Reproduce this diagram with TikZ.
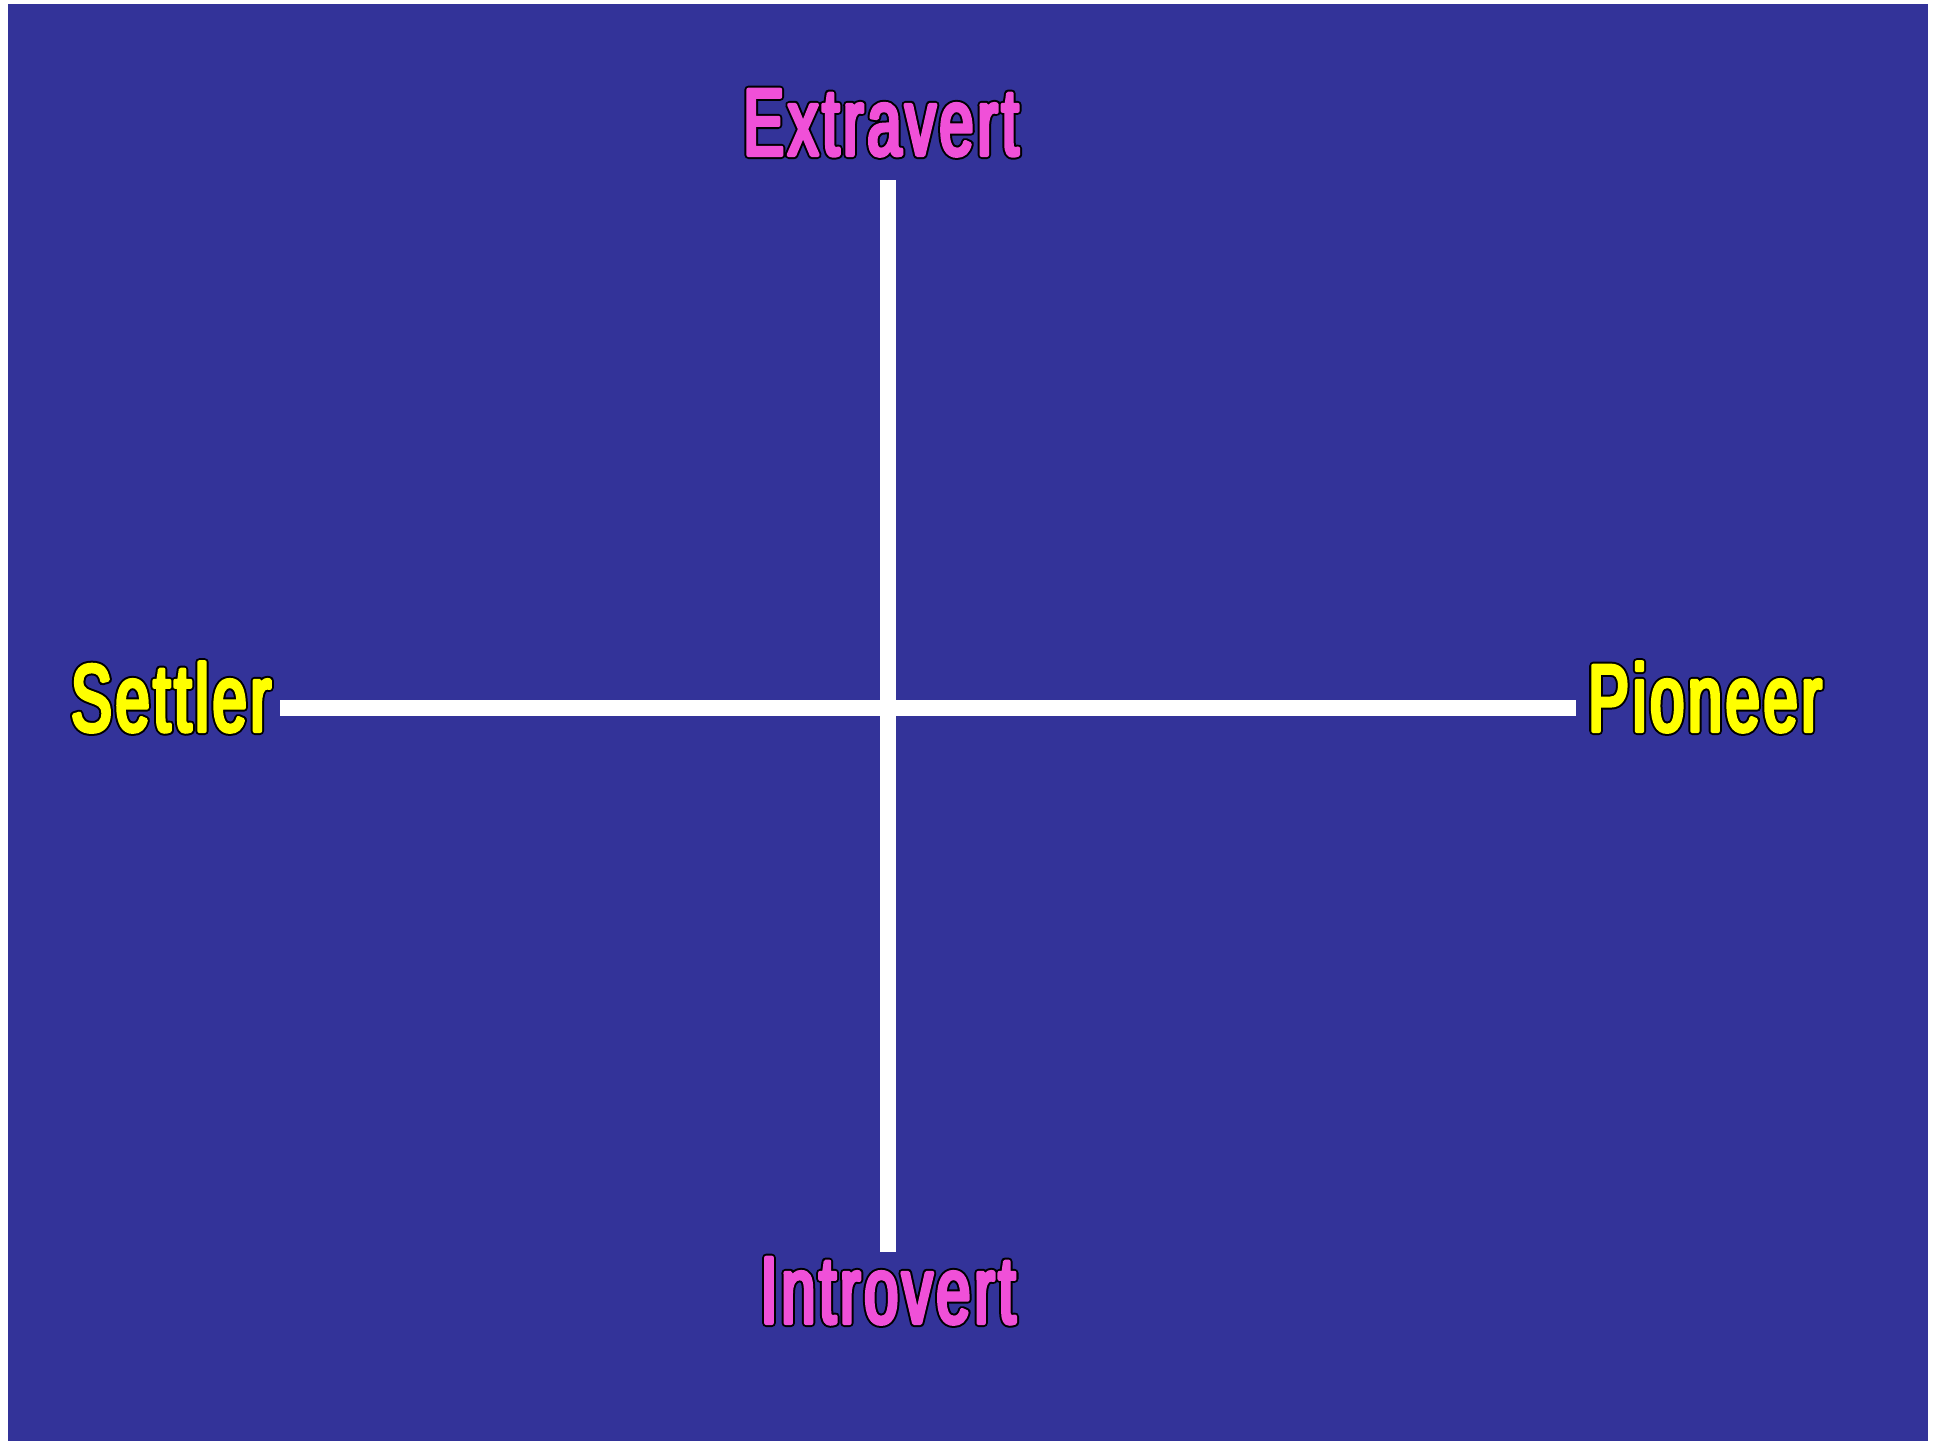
\documentclass[tikz,border=0pt]{standalone}
\usepackage{fontspec}
\newfontfamily\polefont{Liberation Sans}[FakeStretch=0.64,LetterSpace=4.2]
\definecolor{bgblue}{RGB}{51,51,153}
\definecolor{polepink}{RGB}{240,80,216}
\definecolor{poleyellow}{RGB}{255,255,0}
% black thick stroke underneath, coloured stroke on top: heavy letters with a black outline
\newcommand{\outlinedtext}[1]{\rlap{{\color{black}\special{pdf:literal direct 1 j 1 J 2 Tr 4 w}#1}}\special{pdf:literal direct 1 j 1 J 2 Tr 2 w}#1\special{pdf:literal direct 0 Tr}}
\begin{document}
\begin{tikzpicture}[x=0.5pt,y=-0.5pt,
  axisline/.style={draw=white,line width=8pt},
  polelabel/.style={font=\polefont\fontsize{47.5pt}{56pt}\selectfont,inner sep=0pt,anchor=base},
  pinklabel/.style={polelabel,text=polepink},
  yellowlabel/.style={polelabel,text=poleyellow}]
\fill[white] (0,0) rectangle (1946,1440);
\useasboundingbox (0,0) rectangle (1946,1440);
\fill[bgblue] (8,4) rectangle (1928,1441);
\node[pinklabel] (extra) at (881,155) {\outlinedtext{Extravert}};
\node[pinklabel] (intro) at (888,1323) {\outlinedtext{Introvert}};
\node[yellowlabel] (settler) at (171,731) {\outlinedtext{Settler}};
\node[yellowlabel] (pioneer) at (1705,731) {\outlinedtext{Pioneer}};
\coordinate (vtop) at (888,180);
\coordinate (vbot) at (888,1252);
\coordinate (hleft) at (280,708);
\coordinate (hright) at (1576,708);
\draw[axisline] (vtop) -- (vbot);
\draw[axisline] (hleft) -- (hright);
\end{tikzpicture}
\end{document}
